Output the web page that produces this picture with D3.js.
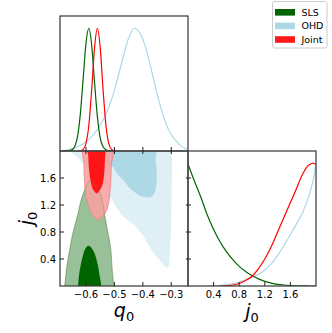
<!DOCTYPE html>
<html>
<head>
<meta charset="utf-8">
<script src="https://cdn.jsdelivr.net/npm/d3@7"></script>
<style>
  body { margin: 0; background: #fff; }
  svg { display: block; }
  text { font-family: "DejaVu Sans", sans-serif; }
</style>
</head>
<body>
<svg id="chart" width="332" height="333"></svg>
<script>
// 1D marginals of q0, [q0, normalised density]
const slsQ0 = [[-0.68, 0], [-0.67, 0.001], [-0.66, 0.003], [-0.65, 0.009], [-0.64, 0.035], [-0.63, 0.115],
  [-0.62, 0.30], [-0.61, 0.59], [-0.60, 0.88], [-0.59, 1.0], [-0.58, 0.86], [-0.57, 0.56], [-0.56, 0.28],
  [-0.55, 0.105], [-0.54, 0.035], [-0.53, 0.01], [-0.52, 0.003], [-0.51, 0.001], [-0.50, 0]];
const ohdQ0 = [[-0.6915, 0.002], [-0.67, 0.007], [-0.65, 0.017], [-0.63, 0.035], [-0.61, 0.06], [-0.59, 0.095],
  [-0.57, 0.145], [-0.55, 0.21], [-0.53, 0.30], [-0.51, 0.42], [-0.49, 0.58], [-0.47, 0.76], [-0.45, 0.92],
  [-0.43, 1.0], [-0.41, 0.96], [-0.39, 0.84], [-0.37, 0.66], [-0.35, 0.47], [-0.33, 0.30], [-0.31, 0.175],
  [-0.29, 0.10], [-0.27, 0.05], [-0.25, 0.02], [-0.2412, 0.012]];
const jointQ0 = [[-0.63, 0], [-0.62, 0.002], [-0.61, 0.013], [-0.60, 0.063], [-0.59, 0.21], [-0.58, 0.50],
  [-0.57, 0.84], [-0.56, 1.0], [-0.55, 0.84], [-0.54, 0.50], [-0.53, 0.21], [-0.52, 0.063], [-0.51, 0.013],
  [-0.50, 0.002], [-0.49, 0]];

// 1D marginals of j0
const slsJ0 = [[0, 0.995], [0.1, 0.855], [0.2, 0.725], [0.3, 0.58], [0.4, 0.46], [0.5, 0.36], [0.6, 0.28],
  [0.7, 0.215], [0.8, 0.16], [0.9, 0.118], [1.0, 0.085], [1.1, 0.058], [1.2, 0.038], [1.3, 0.024], [1.4, 0.014],
  [1.5, 0.008], [1.6, 0.004], [1.7, 0.002], [1.8, 0.001], [1.9, 0], [2.0, 0]];
const ohdJ0 = [[0.3, 0], [0.4, 0.002], [0.5, 0.006], [0.6, 0.012], [0.7, 0.02], [0.8, 0.032], [0.9, 0.05],
  [1.0, 0.07], [1.1, 0.095], [1.2, 0.13], [1.3, 0.18], [1.4, 0.25], [1.5, 0.33], [1.6, 0.42], [1.7, 0.51],
  [1.8, 0.61], [1.9, 0.75], [1.95, 0.85], [2.0, 0.99]];
const jointJ0 = [[0.5, 0], [0.6, 0.003], [0.7, 0.008], [0.8, 0.02], [0.9, 0.045], [1.0, 0.08], [1.1, 0.14],
  [1.2, 0.22], [1.3, 0.32], [1.4, 0.44], [1.5, 0.56], [1.6, 0.68], [1.7, 0.80], [1.75, 0.865], [1.8, 0.92],
  [1.85, 0.965], [1.9, 0.99], [1.95, 1.0], [2.0, 0.99]];

// 2D contours, [q0, j0]
const ohd2sig = [[-0.664, 2.05], [-0.649, 1.97], [-0.632, 1.91], [-0.611, 1.82], [-0.586, 1.715], [-0.561, 1.596],
  [-0.540, 1.477], [-0.522, 1.372], [-0.515, 1.30], [-0.508, 1.28], [-0.498, 1.198], [-0.485, 1.12], [-0.474, 1.047],
  [-0.460, 1.00], [-0.445, 0.950], [-0.428, 0.90], [-0.421, 0.86], [-0.410, 0.802], [-0.398, 0.74], [-0.392, 0.70],
  [-0.3865, 0.653], [-0.378, 0.60], [-0.369, 0.530], [-0.358, 0.47], [-0.346, 0.407], [-0.336, 0.36],
  [-0.328, 0.307], [-0.316, 0.267], [-0.308, 0.30], [-0.3045, 0.530], [-0.301, 0.827], [-0.2993, 1.272],
  [-0.2975, 1.718], [-0.2975, 2.05]];
const ohd1sig = [[-0.540, 2.05], [-0.540, 1.866], [-0.516, 1.777], [-0.504, 1.762], [-0.492, 1.669],
  [-0.469, 1.569], [-0.445, 1.446], [-0.422, 1.372], [-0.3985, 1.321], [-0.369, 1.321], [-0.357, 1.406],
  [-0.3513, 1.569], [-0.352, 1.718], [-0.3555, 1.866], [-0.357, 2.05]];
const sls2sig = [[-0.678, -0.1], [-0.675, 0], [-0.667, 0.30], [-0.657, 0.545], [-0.646, 0.79], [-0.630, 1.04],
  [-0.616, 1.29], [-0.602, 1.45], [-0.590, 1.55], [-0.582, 1.565], [-0.570, 1.50], [-0.552, 1.39],
  [-0.540, 1.20], [-0.534, 1.04], [-0.523, 0.79], [-0.513, 0.545], [-0.509, 0.30], [-0.503, 0], [-0.502, -0.1]];
const sls1sig = [[-0.630, -0.1], [-0.628, 0], [-0.625, 0.15], [-0.619, 0.30], [-0.611, 0.45], [-0.603, 0.55],
  [-0.591, 0.595], [-0.578, 0.55], [-0.567, 0.45], [-0.558, 0.30], [-0.552, 0.15], [-0.546, 0], [-0.545, -0.1]];
const joint2sig = [[-0.607, 2.1], [-0.607, 1.78], [-0.605, 1.535], [-0.602, 1.386], [-0.595, 1.238],
  [-0.584, 1.114], [-0.570, 1.015], [-0.558, 0.98], [-0.540, 1.04], [-0.528, 1.114], [-0.520, 1.238],
  [-0.516, 1.386], [-0.513, 1.535], [-0.511, 1.78], [-0.507, 2.1]];
const joint1sig = [[-0.592, 2.1], [-0.592, 1.915], [-0.588, 1.669], [-0.582, 1.520], [-0.574, 1.421],
  [-0.562, 1.372], [-0.551, 1.421], [-0.541, 1.520], [-0.536, 1.669], [-0.533, 1.915], [-0.533, 2.1]];

const q0Ticks = [-0.6, -0.5, -0.4, -0.3];
const j0Ticks = [0.4, 0.8, 1.2, 1.6];
const legendNames = ['SLS', 'OHD', 'Joint'];

const colors = { SLS: '#006400', OHD: '#add8e6', Joint: '#ff0000' };

const svg = d3.select('#chart');
const L = 60, M = 188, R = 316, T = 16, Mid = 151, B = 286;

const xq = d3.scaleLinear().domain([-0.6915, -0.2412]).range([L, M]);
const yTop = d3.scaleLinear().domain([0, 1.1]).range([Mid, T]);
const yj = d3.scaleLinear().domain([0, 2]).range([B, Mid]);
const xj = d3.scaleLinear().domain([0, 2]).range([M, R]);
const yRight = d3.scaleLinear().domain([0, 1.1]).range([B, Mid]);

const defs = svg.append('defs');
function clip(id, x, y, w, h) {
  defs.append('clipPath').attr('id', id)
    .append('rect').attr('x', x).attr('y', y).attr('width', w).attr('height', h);
}
clip('cTop', L, T, M - L, Mid - T);
clip('cMain', L, Mid, M - L, B - Mid);
clip('cRight', M, Mid, R - M, B - Mid);

// top panel: q0 marginals
const gTop = svg.append('g').attr('clip-path', 'url(#cTop)');
const topLine = d3.line().x(d => xq(d[0])).y(d => yTop(d[1])).curve(d3.curveMonotoneX);
[[ohdQ0, 'OHD'], [slsQ0, 'SLS'], [jointQ0, 'Joint']].forEach(([data, name]) => {
  gTop.append('path').attr('d', topLine(data))
    .attr('fill', 'none').attr('stroke', colors[name]).attr('stroke-width', 1.2);
});

// main panel: 2D contours
const gMain = svg.append('g').attr('clip-path', 'url(#cMain)');
const smooth = d3.line().x(d => xq(d[0])).y(d => yj(d[1])).curve(d3.curveCatmullRomClosed);
const rough = d3.line().x(d => xq(d[0])).y(d => yj(d[1])).curve(d3.curveLinearClosed);

gMain.append('path').attr('d', rough(ohd2sig)).attr('fill', colors.OHD).attr('fill-opacity', 0.4);
gMain.append('path').attr('d', smooth(ohd1sig)).attr('fill', colors.OHD);
gMain.append('path').attr('d', smooth(sls2sig)).attr('fill', colors.SLS).attr('fill-opacity', 0.4)
  .attr('stroke', colors.SLS).attr('stroke-opacity', 0.3).attr('stroke-width', 0.8);
gMain.append('path').attr('d', smooth(sls1sig)).attr('fill', colors.SLS);
gMain.append('path').attr('d', smooth(joint2sig)).attr('fill', '#f8a0a0').attr('fill-opacity', 0.88)
  .attr('stroke', '#f08080').attr('stroke-width', 0.8);
gMain.append('path').attr('d', smooth(joint1sig)).attr('fill', colors.Joint).attr('fill-opacity', 0.88);
// the SLS outer edge shows through the Joint region
gMain.append('path').attr('d', smooth(sls2sig)).attr('fill', 'none')
  .attr('stroke', '#7a7a50').attr('stroke-opacity', 0.45).attr('stroke-width', 0.8);

// right panel: j0 marginals
const gRight = svg.append('g').attr('clip-path', 'url(#cRight)');
const rightLine = d3.line().x(d => xj(d[0])).y(d => yRight(d[1])).curve(d3.curveMonotoneX);
[[ohdJ0, 'OHD'], [slsJ0, 'SLS'], [jointJ0, 'Joint']].forEach(([data, name]) => {
  gRight.append('path').attr('d', rightLine(data))
    .attr('fill', 'none').attr('stroke', colors[name]).attr('stroke-width', 1.2);
});

// frames
const frame = '#444';
[[L, T, M - L, Mid - T], [L, Mid, M - L, B - Mid], [M, Mid, R - M, B - Mid]].forEach(r => {
  svg.append('rect').attr('x', r[0]).attr('y', r[1]).attr('width', r[2]).attr('height', r[3])
    .attr('fill', 'none').attr('stroke', frame).attr('stroke-width', 1.3);
});

// ticks (inward)
const tk = 4;
const ticks = svg.append('g').attr('stroke', '#222').attr('stroke-width', 1);
q0Ticks.forEach(v => {
  ticks.append('line').attr('x1', xq(v)).attr('x2', xq(v)).attr('y1', Mid).attr('y2', Mid - tk);
  ticks.append('line').attr('x1', xq(v)).attr('x2', xq(v)).attr('y1', Mid).attr('y2', Mid + 3);
  ticks.append('line').attr('x1', xq(v)).attr('x2', xq(v)).attr('y1', B).attr('y2', B - tk);
});
j0Ticks.forEach(v => {
  ticks.append('line').attr('x1', L).attr('x2', L + tk).attr('y1', yj(v)).attr('y2', yj(v));
  ticks.append('line').attr('x1', M - 2).attr('x2', M + 3).attr('y1', yj(v)).attr('y2', yj(v));
  ticks.append('line').attr('x1', xj(v)).attr('x2', xj(v)).attr('y1', B).attr('y2', B - tk);
});

// tick labels
const fmt = v => (v < 0 ? '\u2212' : '') + Math.abs(v).toFixed(1);
q0Ticks.forEach(v => {
  svg.append('text').attr('x', xq(v)).attr('y', 298).attr('text-anchor', 'middle')
    .attr('font-size', 10).text(fmt(v));
});
j0Ticks.forEach(v => {
  svg.append('text').attr('x', 56).attr('y', yj(v) + 3.6).attr('text-anchor', 'end')
    .attr('font-size', 10).text(fmt(v));
  svg.append('text').attr('x', xj(v)).attr('y', 298).attr('text-anchor', 'middle')
    .attr('font-size', 10).text(fmt(v));
});

// axis labels
function mathLabel(sel, sym) {
  sel.append('tspan').attr('font-style', 'italic').text(sym);
  sel.append('tspan').attr('font-size', 13).attr('dy', 4).text('0');
}
mathLabel(svg.append('text').attr('x', (L + M) / 2).attr('y', 317).attr('text-anchor', 'middle')
  .attr('font-size', 19), 'q');
mathLabel(svg.append('text').attr('x', (M + R) / 2).attr('y', 318).attr('text-anchor', 'middle')
  .attr('font-size', 19), 'j');
mathLabel(svg.append('text').attr('transform', 'translate(33,' + (Mid + B) / 2 + ') rotate(-90)')
  .attr('text-anchor', 'middle').attr('font-size', 19), 'j');

// legend
const lg = svg.append('g');
lg.append('rect').attr('x', 272.5).attr('y', 1.5).attr('width', 54.5).attr('height', 46.5)
  .attr('rx', 2).attr('fill', '#fff').attr('stroke', '#ccc').attr('stroke-width', 1);
legendNames.forEach((name, i) => {
  const cy = 12.3 + i * 13.6;
  lg.append('rect').attr('x', 275).attr('y', cy - 3.3).attr('width', 20).attr('height', 6.6)
    .attr('fill', colors[name]).attr('fill-opacity', name === 'Joint' ? 0.9 : 1);
  lg.append('text').attr('x', 301.5).attr('y', cy + 3.4).attr('font-size', 9.5).text(name);
});
</script>
</body>
</html>
